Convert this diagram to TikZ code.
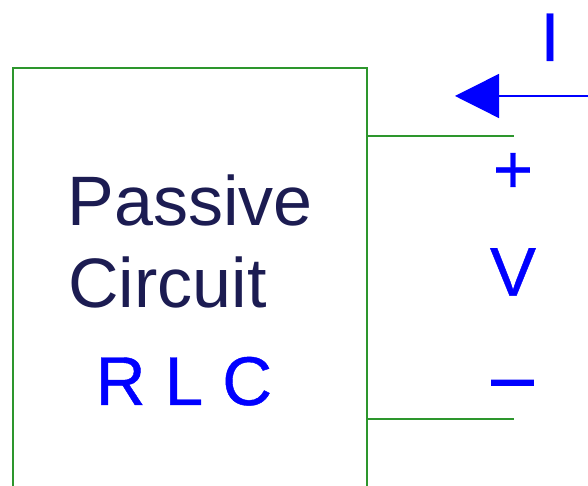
\documentclass[tikz,border=0pt]{standalone}
\usepackage{fontspec}
\setmainfont{Liberation Sans}
\newfontfamily\bluefont[FakeBold=0.6]{Liberation Sans}
\newfontfamily\minusfont[FakeBold=2]{Liberation Sans}
\usetikzlibrary{arrows.meta}
\definecolor{wiregreen}{RGB}{45,150,45}
\definecolor{navytext}{RGB}{28,28,82}
\definecolor{pureblue}{RGB}{0,0,255}
\tikzset{
  wire/.style={draw=wiregreen, line width=2pt},
  bigtext/.style={inner sep=0pt, text=navytext, font=\fontsize{70}{80}\selectfont},
  bluetext/.style={inner sep=0pt, text=pureblue, font=\bluefont\fontsize{69}{80}\selectfont},
  currentarrow/.style={draw=pureblue, line width=1.4pt, -{Triangle[length=44pt,width=44pt]}}
}
\begin{document}
\begin{tikzpicture}[x=1pt,y=1pt]
\useasboundingbox (0,0) rectangle (588,486);
% box and terminals
\coordinate (bl) at (13,-10);
\coordinate (tl) at (13,418);
\coordinate (tr) at (367,418);
\coordinate (br) at (367,-10);
\coordinate (tp) at (367,349.5);
\coordinate (tpend) at (514,349.5);
\coordinate (tm) at (367,66.5);
\coordinate (tmend) at (514,66.5);
\draw[wire] (bl) -- (tl) -- (tr) -- (br);
\draw[wire] (tp) -- (tpend);
\draw[wire] (tm) -- (tmend);
% texts
\node[bigtext, anchor=base west] (passive) at (67.3,260.3) {Passive};
\node[bigtext, anchor=base west] (circuit) at (68.2,178) {Circuit};
\node[bluetext, anchor=base west] (rlc) at (95.6,81) {R L C};
\node[bluetext, anchor=base] (plus) at (513,293) {+};
\node[bluetext, anchor=base] (vlab) at (513,190.3) {V};
\node[inner sep=0pt, text=pureblue, font=\minusfont\fontsize{74}{80}\selectfont, anchor=base] (minus) at (512.5,84.5) {–};
\node[bluetext, anchor=base] (ilab) at (550,425) {I};
% current arrow
\coordinate (istart) at (590,390);
\coordinate (itip) at (455,390);
\draw[currentarrow] (istart) -- (itip);
\end{tikzpicture}
\end{document}
